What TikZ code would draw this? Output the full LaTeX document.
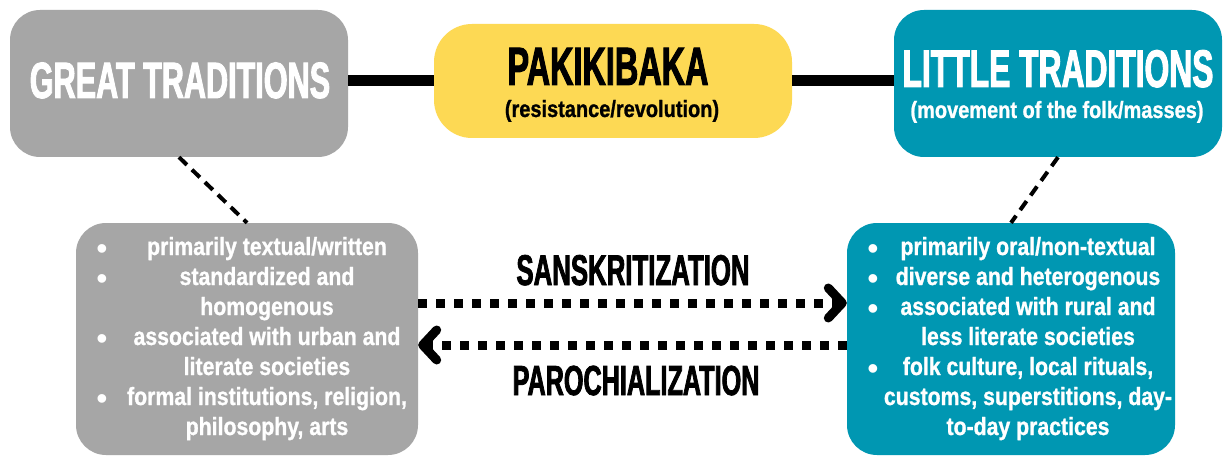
\documentclass[tikz,border=0pt]{standalone}
\usepackage{fontspec}
\usepackage{array}
\setmainfont{Liberation Sans}
\newfontfamily\capsf{Liberation Sans}[FakeStretch=0.6,FakeBold=1.8]
\newfontfamily\lowf{Liberation Sans}[FakeStretch=0.85,FakeBold=1.0]
\usetikzlibrary{arrows.meta}
\definecolor{gtgray}{HTML}{A6A6A6}
\definecolor{ltteal}{HTML}{0097B2}
\definecolor{pkyellow}{HTML}{FDD954}
\newcommand\txtrow[1]{\makebox[280pt]{#1}}
\newcommand\bul{\raisebox{-4pt}{\normalfont\fontsize{32}{30}\selectfont\textbullet}}
\begin{document}
\begin{tikzpicture}[x=1pt,y=-1pt,
  box/.style={rounded corners=30pt, inner sep=0pt, draw=none},
  barlink/.style={line width=11pt, black},
  dlink/.style={line width=4pt, dash pattern=on 11pt off 7pt, black},
  flow/.style={line width=9pt, dash pattern=on 9pt off 9pt, black,
    -{Straight Barb[length=14pt,width=30pt,round]}},
  capt/.style={font=\capsf\bfseries, anchor=base, inner sep=0pt},
  subt/.style={font=\lowf\bfseries\fontsize{23.5}{28}\selectfont, anchor=base, inner sep=0pt},
  body/.style={font=\lowf\bfseries\fontsize{25}{30}\selectfont, text=white, inner sep=0pt}
]
\useasboundingbox (0,0) rectangle (1225,457);
\fill[white] (0,0) rectangle (1225,457);

% boxes
\node[box, fill=gtgray, minimum width=338pt, minimum height=147pt] (gt) at (179,83.5) {};
\node[box, fill=pkyellow, rounded corners=38pt, minimum width=358pt, minimum height=114pt] (pk) at (613,81) {};
\node[box, fill=ltteal, minimum width=328pt, minimum height=147pt] (lt) at (1058,83.5) {};
\node[box, fill=gtgray, minimum width=342pt, minimum height=232pt] (lb) at (247,339) {};
\node[box, fill=ltteal, minimum width=328pt, minimum height=232pt] (rb) at (1011,339) {};

% titles
\node[capt, text=white, font=\capsf\bfseries\fontsize{51}{54}\selectfont] (gtT) at (180,98) {GREAT TRADITIONS};
\node[capt, text=black, font=\capsf\bfseries\fontsize{54}{56}\selectfont] (pkT) at (608,85) {PAKIKIBAKA};
\node[subt, text=black] (pkS) at (612,117) {(resistance/revolution)};
\node[capt, text=white, font=\capsf\bfseries\fontsize{53}{56}\selectfont] (ltT) at (1058,87) {LITTLE TRADITIONS};
\node[subt, text=white] (ltS) at (1057,118) {(movement of the folk/masses)};

% connectors
\draw[barlink] (pk.west) -- (pk.west -| gt.east);
\draw[barlink] (pk.east) -- (pk.east -| lt.west);
\draw[dlink] (gt.south) -- (lb.north);
\draw[dlink] (lt.south) -- (rb.north);

% bullet lists
\node[body] (lbT) at (251.7,339) {%
\begin{tabular}{@{}c@{\hspace{19.4pt}}c@{}}
\bul & \txtrow{primarily textual/written}\\
\bul & \txtrow{standardized and}\\
     & \txtrow{homogenous}\\
\bul & \txtrow{associated with urban and}\\
     & \txtrow{literate societies}\\
\bul & \txtrow{formal institutions, religion,}\\
     & \txtrow{philosophy, arts}
\end{tabular}};
\node[body] (rbT) at (1017.7,339) {%
\begin{tabular}{@{}c@{\hspace{9.4pt}}c@{}}
\bul & \txtrow{primarily oral/non-textual}\\
\bul & \txtrow{diverse and heterogenous}\\
\bul & \txtrow{associated with rural and}\\
     & \txtrow{less literate societies}\\
\bul & \txtrow{folk culture, local rituals,}\\
     & \txtrow{customs, superstitions, day-}\\
     & \txtrow{to-day practices}
\end{tabular}};

% flows
\draw[flow] ([yshift=36pt]lb.east) -- ([yshift=36pt]rb.west);
\draw[flow] ([yshift=-6pt]rb.west) -- ([yshift=-6pt]lb.east);
\node[capt, text=black, font=\capsf\bfseries\fontsize{43}{44}\selectfont] (sk) at (633,285) {SANSKRITIZATION};
\node[capt, text=black, font=\capsf\bfseries\fontsize{42}{44}\selectfont] (pc) at (636,395) {PAROCHIALIZATION};
\end{tikzpicture}
\end{document}
